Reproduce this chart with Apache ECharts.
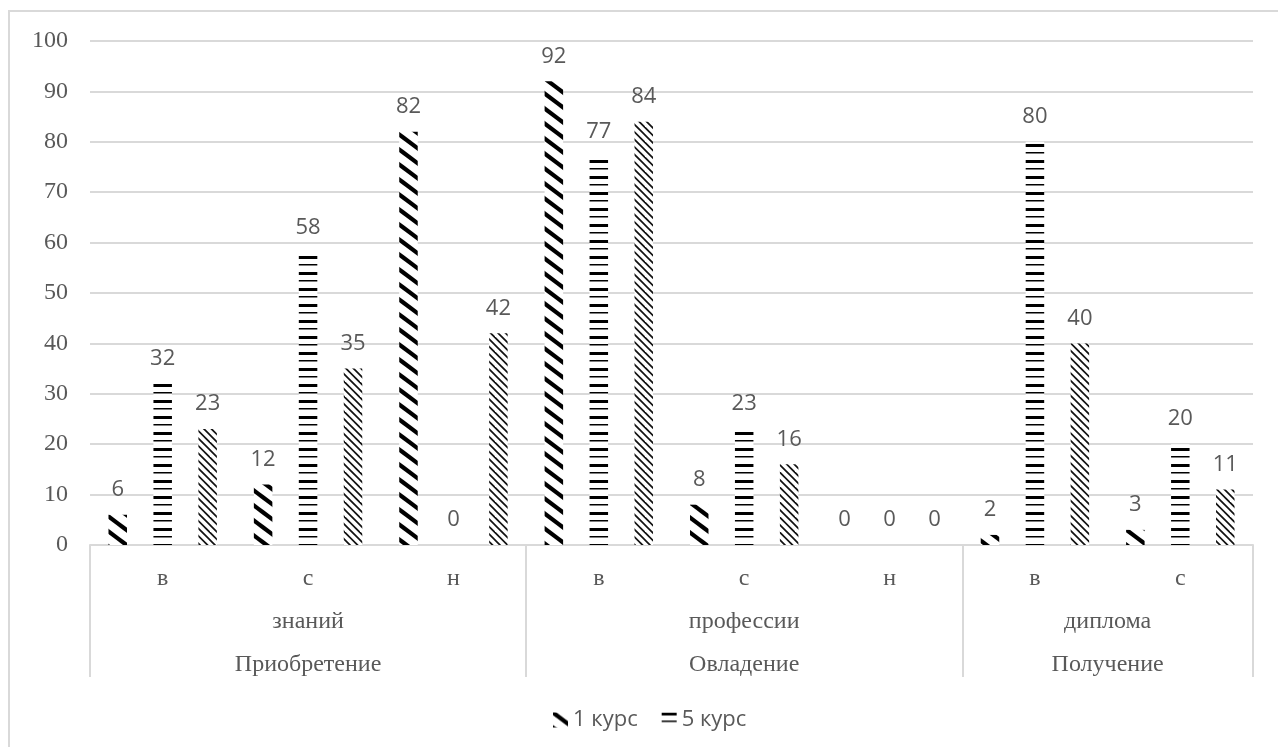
<!DOCTYPE html>
<html><head><meta charset="utf-8">
<script src="https://cdn.jsdelivr.net/npm/echarts@6/dist/echarts.min.js"></script>
<style>
html,body{margin:0;padding:0;background:#fff;overflow:hidden;}
#frame{position:absolute;left:8px;top:10px;width:1300px;height:760px;border:2px solid #d9d9d9;box-sizing:border-box;}
#chart{position:absolute;left:0;top:0;width:1278px;height:747px;}
</style></head><body>
<div id="frame"></div>
<div id="chart"></div>
<script>
// ---- data ----
const categories = ['в', 'с', 'н', 'в', 'с', 'н', 'в', 'с'];
const groupLevel2 = ['знаний', 'профессии', 'диплома'];
const groupLevel3 = ['Приобретение', 'Овладение', 'Получение'];
const groupSizes = [3, 3, 2];
const seriesNames = ['1 курс', '5 курс', 'Ряд 3'];
const course1 = [6, 12, 82, 92, 8, 0, 2, 3];
const course5 = [32, 58, 0, 77, 23, 0, 80, 20];
const series3 = [23, 35, 42, 84, 16, 0, 40, 11];
const yMin = 0, yMax = 100, yStep = 10;

// ---- patterns ----
function makeTile(w, h, draw) {
  const c = document.createElement('canvas');
  c.width = w; c.height = h;
  const ctx = c.getContext('2d');
  ctx.fillStyle = '#fff'; ctx.fillRect(0, 0, w, h);
  draw(ctx, w, h);
  return { image: c, repeat: 'repeat' };
}
function diag(ctx, w, h, lw, color, n) {
  ctx.strokeStyle = color; ctx.lineWidth = lw; ctx.lineCap = 'butt';
  const step = h / n;
  for (let k = -n - 1; k <= n + 1; k++) {
    ctx.beginPath();
    ctx.moveTo(-w, -h + k * step);
    ctx.lineTo(2 * w, 2 * h + k * step);
    ctx.stroke();
  }
}
const pat1 = makeTile(20, 15, (ctx, w, h) => diag(ctx, w, h, 4.2, '#000', 1));
const pat2 = makeTile(4, 16, (ctx, w, h) => {
  ctx.fillStyle = '#000';
  ctx.fillRect(0, 0, w, 3);
  ctx.fillRect(0, 8, w, 1.5);
});
const pat3 = makeTile(15, 15, (ctx, w, h) => diag(ctx, w, h, 1.7, '#111', 2));
const patterns = [pat1, pat2, pat3];
const seriesData = [course1, course5, series3];

// group label positions on a helper value axis (0..categories.length)
const groupCenters = [];
let acc = 0;
groupSizes.forEach((s, i) => { groupCenters.push({ v: acc + s / 2, i }); acc += s; });
const groupStartsIdx = [];
acc = 0;
groupSizes.forEach(s => { groupStartsIdx.push(acc); acc += s; });

const grey = '#595959';
const lineGrey = '#d9d9d9';
const serif = '"Liberation Serif", "Times New Roman", serif';
const sans = '"Open Sans", Lato, sans-serif';

const chart = echarts.init(document.getElementById('chart'), null, { renderer: 'canvas' });
chart.setOption({
  animation: false,
  backgroundColor: 'transparent',
  grid: { left: 90, right: 25, top: 41, bottom: 202, containLabel: false },
  legend: {
    data: [seriesNames[0], seriesNames[1]],
    left: 548, top: 704,
    itemWidth: 15, itemHeight: 15, itemGap: 24,
    icon: 'rect',
    textStyle: { color: grey, fontSize: 22, fontFamily: sans }
  },
  xAxis: [{
    type: 'category',
    data: categories,
    position: 'bottom',
    axisLine: { show: true, lineStyle: { color: lineGrey, width: 2 } },
    axisTick: {
      show: true, length: 132,
      interval: (idx) => groupStartsIdx.includes(idx),
      lineStyle: { color: lineGrey, width: 2 }
    },
    axisLabel: { color: grey, fontSize: 24, fontFamily: serif, margin: 12, lineHeight: 43, interval: 0 },
    splitLine: { show: false }
  }, {
    type: 'value',
    min: 0, max: categories.length, interval: 0.5,
    position: 'bottom',
    axisLine: { show: false }, axisTick: { show: false }, splitLine: { show: false },
    axisLabel: {
      color: grey, fontSize: 24, fontFamily: serif, margin: 55, lineHeight: 43,
      showMinLabel: true, showMaxLabel: true,
      formatter: (v) => {
        const g = groupCenters.find(c => Math.abs(c.v - v) < 1e-6);
        return g ? groupLevel2[g.i] + '\n' + groupLevel3[g.i] : '';
      }
    }
  }],
  yAxis: {
    type: 'value', min: yMin, max: yMax, interval: yStep,
    axisLine: { show: false }, axisTick: { show: false },
    splitLine: { lineStyle: { color: lineGrey, width: 2 } },
    axisLabel: { color: grey, fontSize: 24, fontFamily: serif, margin: 22 }
  },
  series: seriesData.map((d, i) => ({
    name: seriesNames[i],
    type: 'bar',
    xAxisIndex: 0,
    data: d,
    barWidth: 18.5,
    barGap: '143%',
    itemStyle: { color: patterns[i] },
    label: {
      show: true, position: 'top', distance: 14,
      color: grey, fontSize: 22, fontFamily: sans
    }
  }))
});
</script>
</body></html>
